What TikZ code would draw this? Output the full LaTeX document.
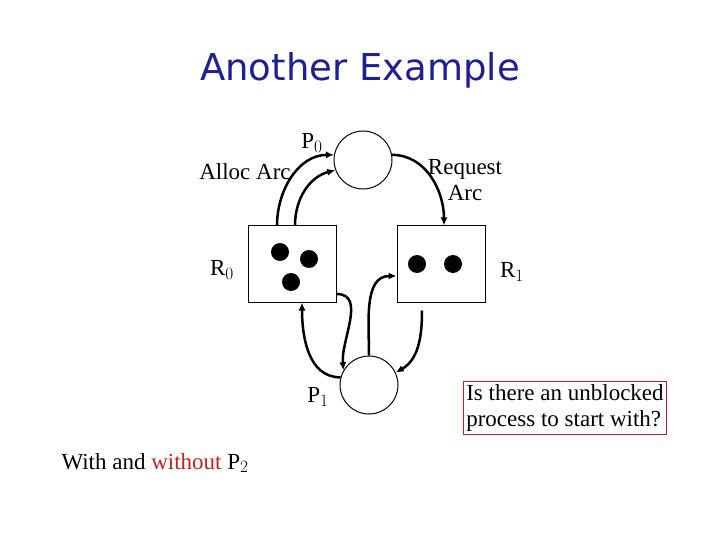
\documentclass[tikz,border=0pt]{standalone}
\usepackage{fontspec}
\setmainfont{Liberation Serif}
\newfontfamily\titlefont{DejaVu Sans}
\usetikzlibrary{positioning}
\usetikzlibrary{arrows.meta}
\definecolor{titleblue}{RGB}{30,30,150}
\definecolor{boxred}{RGB}{200,30,30}
\begin{document}
\begin{tikzpicture}[
                x=1pt, y=-1pt,
                proc/.style = {
                    draw,
                    circle,
                    minimum size = 58pt,
                    inner sep = 0pt,
                    line width = 1pt
                },
                res/.style = {
                    draw,
                    minimum width = 88pt,
                    minimum height = 76pt,
                    inner sep = 0pt,
                    line width = 1pt
                },
                dot/.style = {
                    circle,
                    fill,
                    minimum size = 18pt,
                    inner sep = 0pt
                },
                arc/.style = {line width = 2.5pt, -{Latex[length=8pt,width=7pt]}},
                lbl/.style = {font=\fontsize{23}{26}\selectfont}
            ]
            \useasboundingbox (0,0) rectangle (720,540);
            \node[font=\titlefont\fontsize{37}{40}\selectfont, text=titleblue] (title) at (360,70) {Another Example};
            %
            \node[proc] (p0) at (363,160) {};
            \node[proc] (p1) at (369,385) {};
            \node[res] (r0) at (292,264) {};
            \node[res] (r1) at (441,264) {};
            %
            \node[dot] (d1) at (280,252) {};
            \node[dot] (d2) at (309,259) {};
            \node[dot] (d3) at (291,282) {};
            \node[dot] (d4) at (417,264) {};
            \node[dot] (d5) at (453,264) {};
            %
            \node[lbl] (p0l) at (312,143) {P$_0$};
            \node[lbl] (p1l) at (318,397) {P$_1$};
            \node[lbl] (r0l) at (222,270) {R$_0$};
            \node[lbl] (r1l) at (512,272) {R$_1$};
            \node[lbl] (alloc) at (245,172) {Alloc Arc};
            \node[lbl, align=center] (req) at (465,180) {Request\\ Arc};
            \node[lbl, draw=boxred, line width=1pt, align=left, inner sep=3pt] (quest) at (565,408) {Is there an unblocked\\process to start with?};
            \node[lbl, anchor=west] (with) at (58,463) {With and \textcolor{boxred}{without} P$_2$};
            %
            \draw[arc] ([xshift=-15pt]r0.north) to[out=90, in=180] (p0.170);
            \draw[arc] ([xshift=3pt]r0.north) to[out=90, in=195] (p0.200);
            \draw[arc] (p0.10) to[out=0, in=90] ([xshift=3pt]r1.north);
            \draw[arc] ([yshift=-30pt]r0.east) to[out=0, in=95] (p1.150);
            \draw[arc] (p1.165) to[out=180, in=270] ([xshift=10pt]r0.south);
            \draw[arc] (p1.90) to[out=90, in=180] ([yshift=-12pt]r1.west);
            \draw[arc] ([xshift=-19pt,yshift=-8pt]r1.south) to[out=270, in=30] (p1.25);
        \end{tikzpicture}
\end{document}
